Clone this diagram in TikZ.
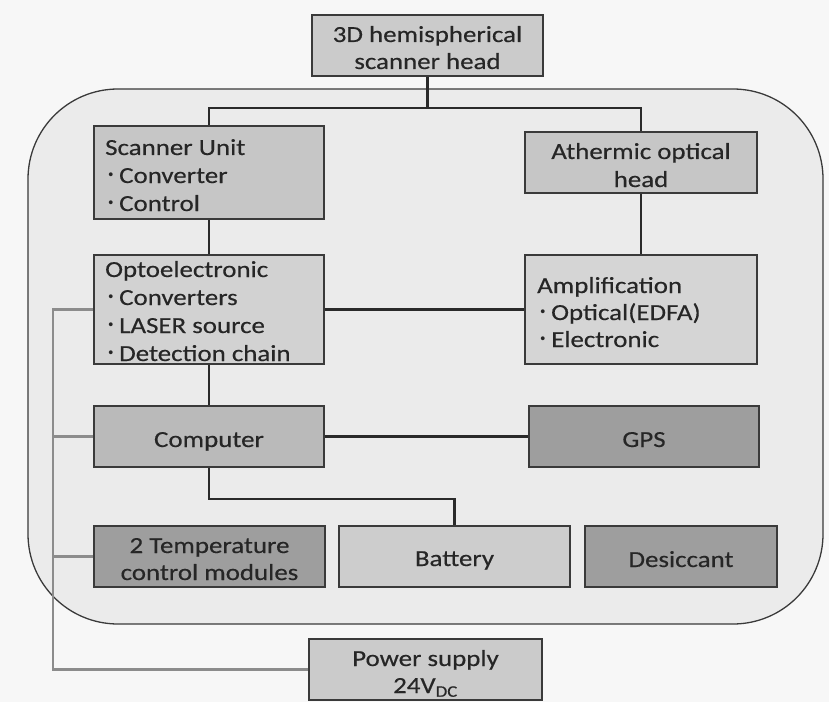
\documentclass[tikz,border=0pt]{standalone}
\usepackage{fontspec}
\setmainfont{Carlito}[FakeStretch=1.17,FakeBold=0.4]
\newfontfamily\cjkfont{Noto Sans CJK JP}
\definecolor{bgc}{HTML}{F7F7F7}
\definecolor{contc}{HTML}{EBEBEB}
\definecolor{linec}{HTML}{3A3A3A}
\definecolor{connc}{HTML}{2A2A2A}
\definecolor{grayc}{HTML}{8C8C8C}
\definecolor{textc}{HTML}{262626}
\definecolor{fA}{HTML}{CBCBCB}
\definecolor{fScan}{HTML}{C6C6C6}
\definecolor{fOpto}{HTML}{D2D2D2}
\definecolor{fAmp}{HTML}{D5D5D5}
\definecolor{fComp}{HTML}{BABABA}
\definecolor{fDark}{HTML}{9E9E9E}
\definecolor{fBat}{HTML}{CDCDCD}
\newcommand\bul{{\cjkfont ･}\hspace{2.5bp}}
\tikzset{
  box/.style={draw=linec, line width=1.5bp, inner sep=0pt},
  txt/.style={inner sep=0pt, text=textc, font=\fontsize{23bp}{27bp}\selectfont},
  conn/.style={draw=connc, line width=2.3bp},
  gconn/.style={draw=grayc, line width=2.5bp},
}
\begin{document}
\begin{tikzpicture}[x=1bp,y=-1bp]
\useasboundingbox (0,0) rectangle (829,702);
\fill[bgc] (0,0) rectangle (829,702);
% container
\draw[fill=contc, draw=linec, line width=1.3bp, rounded corners=90bp] (28,89) rectangle (823,624);

% boxes
\node[box, fill=fA, minimum width=231bp, minimum height=61bp] (top) at (427.5,45.5) {};
\node[box, fill=fScan, minimum width=230bp, minimum height=93bp] (scan) at (209,172.5) {};
\node[box, fill=fScan, minimum width=232bp, minimum height=61bp] (ath) at (641,162.5) {};
\node[box, fill=fOpto, minimum width=230bp, minimum height=109bp] (opto) at (209,309.5) {};
\node[box, fill=fAmp, minimum width=232bp, minimum height=109bp] (amp) at (641,309.5) {};
\node[box, fill=fComp, minimum width=230bp, minimum height=61bp] (comp) at (209,436.5) {};
\node[box, fill=fDark, minimum width=230bp, minimum height=61bp] (gps) at (644,436.5) {};
\node[box, fill=fDark, minimum width=231bp, minimum height=61bp] (temp) at (209.5,556.5) {};
\node[box, fill=fBat, minimum width=231bp, minimum height=61bp] (bat) at (454.5,556.5) {};
\node[box, fill=fDark, minimum width=192bp, minimum height=61bp] (des) at (681,556.5) {};
\node[box, fill=fA, minimum width=233bp, minimum height=61bp] (pwr) at (425.5,669.5) {};

% texts
\node[txt, anchor=base] (topT1) at (427.5,42) {3D hemispherical};
\node[txt, anchor=base] (topT2) at (427.5,69) {scanner head};
\node[txt, anchor=base west] (scanT1) at (105,155) {Scanner Unit};
\node[txt, anchor=base west] (scanT2) at (105,183) {\bul Converter};
\node[txt, anchor=base west] (scanT3) at (105,211) {\bul Control};
\node[txt, anchor=base] (athT1) at (641,159) {Athermic optical};
\node[txt, anchor=base] (athT2) at (641,187) {head};
\node[txt, anchor=base west] (optoT1) at (105,277) {Optoelectronic};
\node[txt, anchor=base west] (optoT2) at (105,305) {\bul Converters};
\node[txt, anchor=base west] (optoT3) at (105,333) {\bul LASER source};
\node[txt, anchor=base west] (optoT4) at (105,361) {\bul Detection chain};
\node[txt, anchor=base west] (ampT1) at (537,293) {Amplification};
\node[txt, anchor=base west] (ampT2) at (537,320) {\bul Optical(EDFA)};
\node[txt, anchor=base west] (ampT3) at (537,347) {\bul Electronic};
\node[txt, anchor=base] (compT) at (209,447) {Computer};
\node[txt, anchor=base] (gpsT) at (644,447) {GPS};
\node[txt, anchor=base] (tempT1) at (209.5,553) {2 Temperature};
\node[txt, anchor=base] (tempT2) at (209.5,580) {control modules};
\node[txt, anchor=base] (batT) at (454.5,566) {Battery};
\node[txt, anchor=base] (desT) at (681,567) {Desiccant};
\node[txt, anchor=base] (pwrT1) at (425.5,666) {Power supply};
\node[txt, anchor=base] (pwrT2) at (425.5,693) {24V\textsubscript{DC}};

% black connectors
\coordinate (j1) at (427.5,108);
\coordinate (j2) at (209,499);
\draw[conn] (top.south) -- (j1);
\draw[conn] (scan.north) |- (j1) -| (ath.north);
\draw[conn] (scan.south) -- (opto.north);
\draw[conn] (ath.south) -- (amp.north);
\draw[conn] (opto.east) -- (amp.west);
\draw[conn] (opto.south) -- (comp.north);
\draw[conn] (comp.east) -- (gps.west);
\draw[conn] (comp.south) -- (j2) -| (bat.north);

% gray power connectors
\coordinate (gTop) at (53,309.5);
\coordinate (gBot) at (53,669.5);
\draw[gconn] (opto.west) -- (gTop) -- (gBot) -- (pwr.west);
\draw[gconn] (comp.west) -- (comp.west -| gTop);
\draw[gconn] (temp.west) -- (temp.west -| gTop);
\end{tikzpicture}
\end{document}
